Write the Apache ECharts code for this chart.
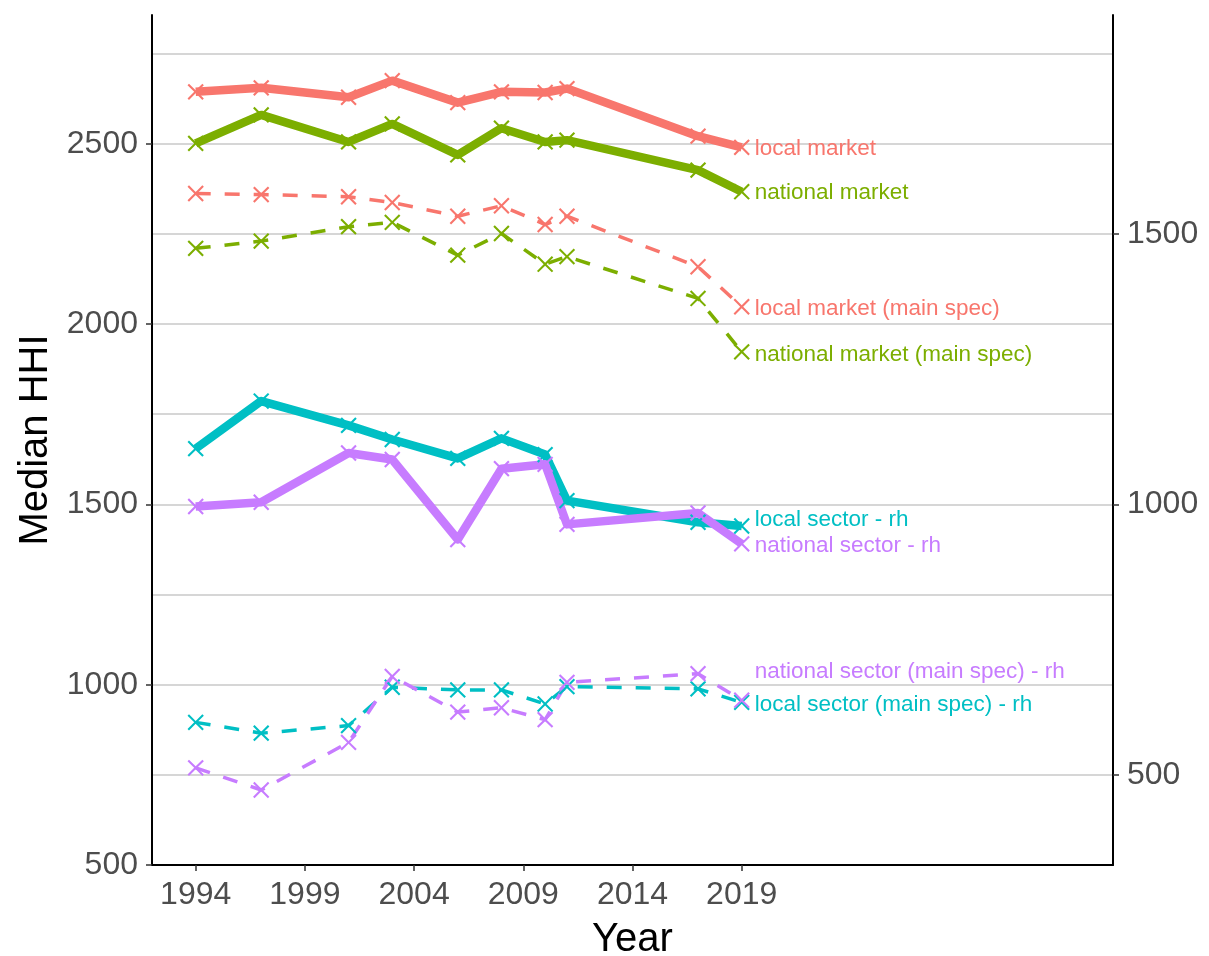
<!DOCTYPE html>
<html>
<head>
<meta charset="utf-8">
<script src="https://cdn.jsdelivr.net/npm/echarts@6/dist/echarts.min.js"></script>
<style>
  html, body { margin: 0; background: #fff; }
  #chart { width: 1209px; height: 956px; }
</style>
</head>
<body>
<div id="chart"></div>
<script>
// survey years (x)
const years = [1994, 1997, 2001, 2003, 2006, 2008, 2010, 2011, 2017, 2019];
const xTicks = [1994, 1999, 2004, 2009, 2014, 2019];
const leftTicks = [500, 1000, 1500, 2000, 2500];
const rightTicks = [500, 1000, 1500];

// left axis series (market HHI)
const localMarket = [2644, 2655, 2629, 2675, 2614, 2644, 2642, 2653, 2521, 2490];
const nationalMarket = [2501, 2580, 2505, 2555, 2469, 2543, 2505, 2510, 2427, 2367];
const localMarketMain = [2362, 2359, 2353, 2337, 2299, 2328, 2276, 2299, 2159, 2048];
const nationalMarketMain = [2210, 2230, 2270, 2282, 2191, 2251, 2166, 2187, 2071, 1923];

// right axis series (sector HHI, "rh")
const localSector = [1103, 1191, 1146, 1120, 1085, 1122, 1092, 1007, 967, 960];
const nationalSector = [996, 1004, 1095, 1083, 935, 1066, 1074, 963, 984, 927];
const localSectorMain = [597, 577, 591, 662, 657, 657, 631, 663, 659, 634];
const nationalSectorMain = [513, 472, 560, 682, 616, 624, 602, 671, 687, 638];

const RED = '#F8766D', GREEN = '#7CAE00', CYAN = '#00BFC4', PURPLE = '#C77CFF';
const FONT = '"Liberation Sans", Arial, Helvetica, sans-serif';
const LEFT_MIN = 500, LEFT_MAX = 2857;
const cross = 'path://M45,0H55V45H100V55H55V100H45V55H0V45H45Z';

function makeSeries(name, values, color, dashed, yAxisIndex, labelDy) {
  return {
    name,
    type: 'line',
    xAxisIndex: 0,
    yAxisIndex,
    data: years.map((y, i) => [y, values[i]]),
    symbol: cross,
    symbolSize: 21,
    symbolRotate: 45,
    showAllSymbol: true,
    itemStyle: { color },
    lineStyle: {
      color,
      width: dashed ? 3.5 : 8.5,
      type: dashed ? [15, 14] : 'solid',
      cap: 'butt',
      join: 'round'
    },
    endLabel: {
      show: true,
      formatter: name,
      color,
      fontSize: 22.5,
      fontFamily: FONT,
      distance: 13,
      offset: [0, labelDy]
    },
    emphasis: { disabled: true },
    silent: true
  };
}

const plain = (v) => String(Math.round(v));
const axisText = { color: '#4D4D4D', fontSize: 32, fontFamily: FONT, formatter: plain };
const axisLine = { show: true, onZero: false, lineStyle: { color: '#000', width: 2 } };
const tickStyle = { show: true, length: 6, lineStyle: { color: '#333', width: 1.5 } };

const chart = echarts.init(document.getElementById('chart'), null, { renderer: 'canvas' });
chart.setOption({
  animation: false,
  backgroundColor: '#fff',
  grid: { left: 152, right: 96, top: 15, bottom: 91, containLabel: false, outerBoundsMode: 'none' },
  xAxis: {
    type: 'value',
    min: 1992,
    max: 2036,
    axisLine,
    axisTick: Object.assign({}, tickStyle, { customValues: xTicks }),
    axisLabel: Object.assign({}, axisText, { customValues: xTicks, margin: 14 }),
    splitLine: { show: false },
    name: 'Year',
    nameLocation: 'middle',
    nameGap: 55,
    nameTextStyle: { color: '#000', fontSize: 40, fontFamily: FONT }
  },
  yAxis: [
    {
      type: 'value',
      position: 'left',
      min: LEFT_MIN,
      max: LEFT_MAX,
      axisLine,
      axisTick: Object.assign({}, tickStyle, { customValues: leftTicks }),
      axisLabel: Object.assign({}, axisText, { customValues: leftTicks, margin: 14 }),
      splitLine: { show: false },
      name: 'Median HHI',
      nameLocation: 'middle',
      nameGap: 96,
      nameTextStyle: { color: '#000', fontSize: 40, fontFamily: FONT }
    },
    {
      type: 'value',
      position: 'right',
      min: LEFT_MIN / 1.5,
      max: LEFT_MAX / 1.5,
      axisLine,
      axisTick: Object.assign({}, tickStyle, { customValues: rightTicks }),
      axisLabel: Object.assign({}, axisText, { customValues: rightTicks, margin: 14 }),
      splitLine: { show: false }
    },
    {
      // gridlines only, every 250 on the left scale
      type: 'value',
      position: 'left',
      min: LEFT_MIN,
      max: LEFT_MAX,
      interval: 250,
      axisLine: { show: false },
      axisTick: { show: false },
      axisLabel: { show: false },
      splitLine: {
        show: true,
        showMinLine: false,
        showMaxLine: false,
        lineStyle: { color: '#C9C9C9', width: 1.5 }
      }
    }
  ],
  series: [
    makeSeries('local market', localMarket, RED, false, 0, 1),
    makeSeries('national market', nationalMarket, GREEN, false, 0, 1),
    makeSeries('local market (main spec)', localMarketMain, RED, true, 0, 2),
    makeSeries('national market (main spec)', nationalMarketMain, GREEN, true, 0, 3),
    makeSeries('local sector - rh', localSector, CYAN, false, 1, -6),
    makeSeries('national sector - rh', nationalSector, PURPLE, false, 1, 2),
    makeSeries('local sector (main spec) - rh', localSectorMain, CYAN, true, 1, 2),
    makeSeries('national sector (main spec) - rh', nationalSectorMain, PURPLE, true, 1, -28)
  ]
});
</script>
</body>
</html>
